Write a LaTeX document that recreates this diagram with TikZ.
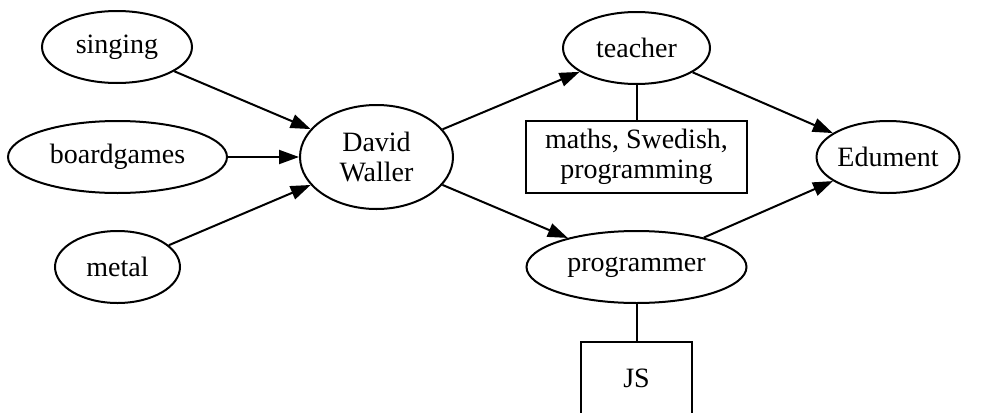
\documentclass[tikz,border=0pt]{standalone}
\usepackage{fontspec}
\setmainfont{Liberation Serif}
\usetikzlibrary{shapes.geometric,arrows.meta}
\begin{document}
\begin{tikzpicture}[x=0.5pt,y=-0.5pt,line width=1pt,
    every node/.style={font=\fontsize{14pt}{15pt}\selectfont,inner sep=0pt,align=center,line width=1pt},
    oval/.style={draw,ellipse,minimum height=36pt},
    box/.style={draw,rectangle,minimum height=36pt}]
      \useasboundingbox (0,0) rectangle (983,412);
      \clip (0,0) rectangle (983,412);
      \draw
        (117,47) node[oval,minimum width=75pt] (singing){singing}
        (117.5,157) node[oval,minimum width=109.5pt] (boardgames){boardgames}
        (117.5,267) node[oval,minimum width=62.5pt] (metal){metal}
        (376.5,157) node[oval,minimum width=76.5pt,minimum height=52pt] (david){David\\Waller}
        (636.5,48) node[oval,minimum width=73.5pt] (teacher){teacher}
        (636.5,157) node[box,minimum width=110.5pt] (subjects){maths, Swedish,\\programming}
        (636.5,267) node[oval,minimum width=110pt] (programmer){programmer}
        (636.5,378) node[box,minimum width=55.5pt] (js){JS}
        (888,157) node[oval,minimum width=67pt] (edument){Edument};
      \begin{scope}[-{Triangle[length=10pt,width=7pt]}]
        \draw (singing) to (david);
        \draw (boardgames) to (david);
        \draw (metal) to (david);
        \draw (david) to (teacher);
        \draw (david) to (programmer);
        \draw (teacher) to (edument);
        \draw (programmer) to (edument);
      \end{scope}
      \begin{scope}[-]
        \draw (teacher) to (subjects);
        \draw (programmer) to (js);
      \end{scope}
    \end{tikzpicture}
\end{document}
